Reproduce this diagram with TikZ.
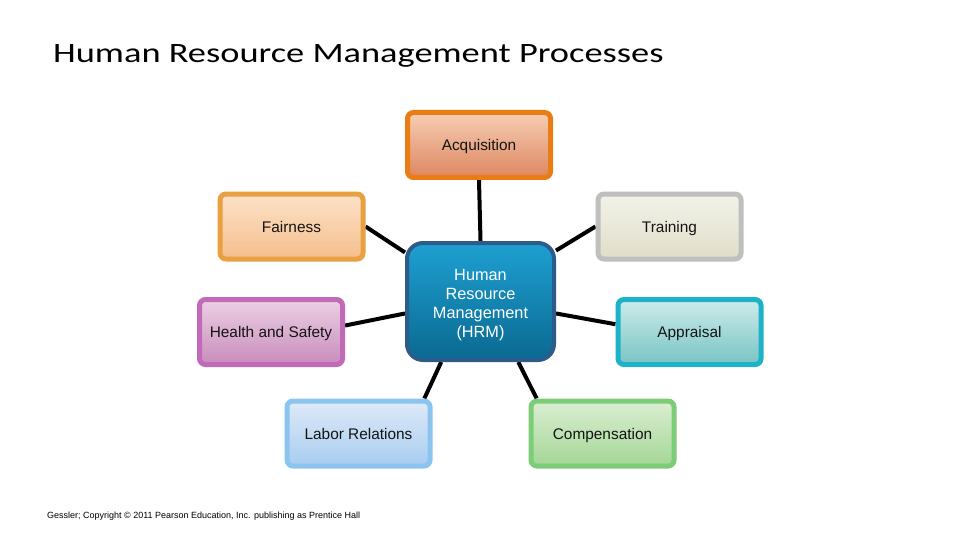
\documentclass[tikz,border=0pt]{standalone}
\usepackage{fontspec}
\setmainfont{Liberation Sans}
\newfontfamily\titlefont{Carlito}
\usetikzlibrary{backgrounds}

% box colours: border, top and bottom of the fill
\definecolor{acqline}{RGB}{233,125,20}
\definecolor{acqtop}{RGB}{246,206,180}
\definecolor{acqbot}{RGB}{222,134,96}
\definecolor{fairline}{RGB}{233,160,64}
\definecolor{fairtop}{RGB}{252,226,200}
\definecolor{fairbot}{RGB}{245,190,140}
\definecolor{trainline}{RGB}{191,191,191}
\definecolor{traintop}{RGB}{242,242,234}
\definecolor{trainbot}{RGB}{224,222,200}
\definecolor{healthline}{RGB}{192,106,184}
\definecolor{healthtop}{RGB}{236,208,228}
\definecolor{healthbot}{RGB}{200,140,188}
\definecolor{apprline}{RGB}{30,178,200}
\definecolor{apprtop}{RGB}{205,235,235}
\definecolor{apprbot}{RGB}{120,196,196}
\definecolor{laborline}{RGB}{140,196,240}
\definecolor{labortop}{RGB}{222,234,248}
\definecolor{laborbot}{RGB}{168,204,240}
\definecolor{compline}{RGB}{124,204,120}
\definecolor{comptop}{RGB}{218,238,210}
\definecolor{compbot}{RGB}{164,214,150}
\definecolor{hrmline}{RGB}{46,92,138}
\definecolor{hrmtop}{RGB}{30,160,210}
\definecolor{hrmbot}{RGB}{10,105,145}

\tikzset{
	procbox/.style={draw, line width=5pt, rounded corners=6pt,
		minimum width=143pt, minimum height=65pt, inner sep=2pt,
		text height=11pt, text depth=0pt,
		text={rgb,255:red,20;green,20;blue,20},
		font=\fontsize{15.4}{18}\selectfont},
	hrmbox/.style={draw=hrmline, line width=4pt, rounded corners=16pt,
		minimum width=147pt, minimum height=117pt, align=center,
		top color=hrmtop, bottom color=hrmbot, text=white,
		font=\fontsize{16.3}{19}\selectfont},
	link/.style={line width=4pt, black}
}

\begin{document}
\begin{tikzpicture}[x=1pt,y=-1pt]
	\useasboundingbox (0,0) rectangle (960,540);

	\node[anchor=base west, inner sep=0pt] (title) at (53,63)
		{\scalebox{1.3}[1]{\titlefont\fontsize{28}{34}\selectfont Human Resource Management Processes}};

	\node[hrmbox] (hrm) at (480.5,301.5) {\rule{0pt}{17.5pt}Human\\Resource\\Management\\(HRM)};

	\node[procbox, draw=acqline, top color=acqtop, bottom color=acqbot] (acq) at (479,145) {Acquisition};
	\node[procbox, draw=fairline, top color=fairtop, bottom color=fairbot] (fair) at (291.5,226.5) {Fairness};
	\node[procbox, draw=trainline, top color=traintop, bottom color=trainbot] (train) at (669.5,226.5) {Training};
	\node[procbox, draw=healthline, top color=healthtop, bottom color=healthbot] (health) at (271,332) {Health and Safety};
	\node[procbox, draw=apprline, top color=apprtop, bottom color=apprbot] (appr) at (689.5,332) {Appraisal};
	\node[procbox, draw=laborline, top color=labortop, bottom color=laborbot] (labor) at (358.5,433.5) {Labor Relations};
	\node[procbox, draw=compline, top color=comptop, bottom color=compbot] (comp) at (602.5,433.5) {Compensation};

	\begin{scope}[on background layer]
		\draw[link] (acq.south) -- (hrm.north);
		\draw[link] (fair.east) -- (hrm.147);
		\draw[link] (train.west) -- (hrm.34);
		\draw[link] (health.5) -- (hrm.189);
		\draw[link] (appr.174) -- (hrm.351);
		\draw[link] (labor.28) -- (hrm.237);
		\draw[link] (comp.152) -- (hrm.302);
	\end{scope}

	\node[anchor=base west, inner sep=0pt, font=\fontsize{9}{11}\selectfont] (credit) at (47,518)
		{Gessler; Copyright \textcopyright{} 2011 Pearson Education, Inc. publishing as Prentice Hall};
\end{tikzpicture}
\end{document}
